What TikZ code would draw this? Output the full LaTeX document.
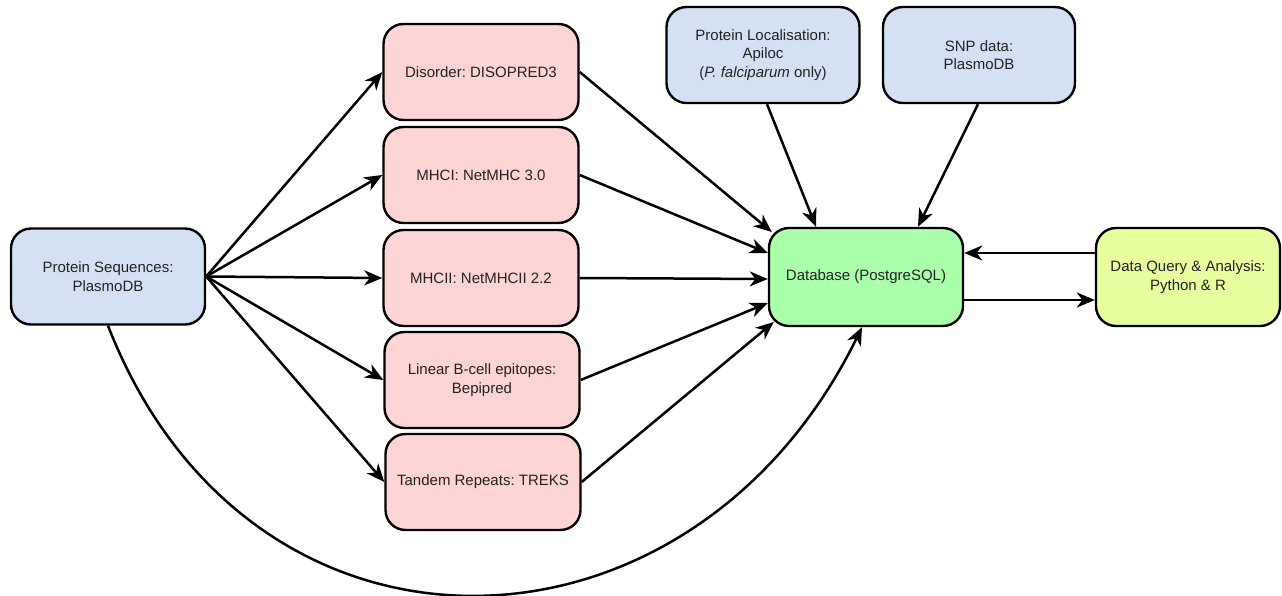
\documentclass[tikz,border=0pt]{standalone}
\usepackage{fontspec}
\setmainfont{Liberation Sans}
\usetikzlibrary{arrows.meta,calc}
\definecolor{boxblue}{RGB}{212,225,245}
\definecolor{boxpink}{RGB}{255,212,212}
\definecolor{boxgreen}{RGB}{170,255,170}
\definecolor{boxyellow}{RGB}{232,255,160}
\definecolor{txt}{RGB}{34,34,34}
\frenchspacing
\begin{document}
\begin{tikzpicture}[x=1pt,y=-1pt,
  every node/.style={font=\fontsize{15}{18.3}\selectfont\frenchspacing, text=txt},
  box/.style={draw=black, line width=2.4pt, rounded corners=20pt, align=center,
    minimum width=194pt, minimum height=96pt, inner sep=0pt},
  conn/.style={line width=2.5pt, -{Stealth[length=18pt,width=15pt,inset=5.5pt]}}]
\useasboundingbox (0,0) rectangle (1282,596);
\node[box, fill=boxblue] (ps) at (108,276.5) {Protein Sequences:\\PlasmoDB};
\node[box, fill=boxpink, minimum width=195pt] (dis) at (481,72) {Disorder: DISOPRED3};
\node[box, fill=boxpink, minimum width=195pt] (mhc1) at (481,175) {MHCI: NetMHC 3.0};
\node[box, fill=boxpink, minimum width=195pt] (mhc2) at (481,278) {MHCII: NetMHCII 2.2};
\node[box, fill=boxpink, minimum width=195pt] (lin) at (482,380) {Linear B-cell epitopes:\\Bepipred};
\node[box, fill=boxpink, minimum width=195pt] (tan) at (483,482) {Tandem Repeats: TREKS};
\node[box, fill=boxblue, minimum width=193pt] (loc) at (763,55) {Protein Localisation:\\Apiloc\\(\textit{P. falciparum} only)};
\node[box, fill=boxblue, minimum width=192pt] (snp) at (979,55) {SNP data:\\PlasmoDB};
\node[box, fill=boxgreen, minimum height=98pt] (db) at (866,277) {Database (PostgreSQL)};
\node[box, fill=boxyellow, minimum width=184pt, minimum height=98pt] (dq) at (1188,277) {Data Query \& Analysis:\\Python \& R};

\foreach \t in {dis,mhc1,mhc2,lin,tan} \draw[conn] (ps.east) -- (\t.west);

\draw[conn] (dis.east) -- ($(db.west)+(4,-45)$);
\draw[conn] (mhc1.east) -- ($(db.west)+(0,-24)$);
\draw[conn] (mhc2.east) -- ($(db.west)+(0,2)$);
\draw[conn] (lin.east) -- ($(db.west)+(0,26)$);
\draw[conn] (tan.east) -- ($(db.west)+(6,45)$);

\draw[conn] ($(loc.south)+(4,0)$) -- ($(db.north)+(-50,0)$);
\draw[conn] ($(snp.south)+(-1,0)$) -- ($(db.north)+(52,0)$);

\draw[conn] ($(dq.west)+(0,-24)$) -- ($(db.east)+(0,-24)$);
\draw[conn] ($(db.east)+(0,23)$) -- ($(dq.west)+(0,23)$);

\draw[conn] (ps.south) .. controls (250,690) and (690,678) .. ($(db.south)+(-4,0)$);
\end{tikzpicture}
\end{document}
